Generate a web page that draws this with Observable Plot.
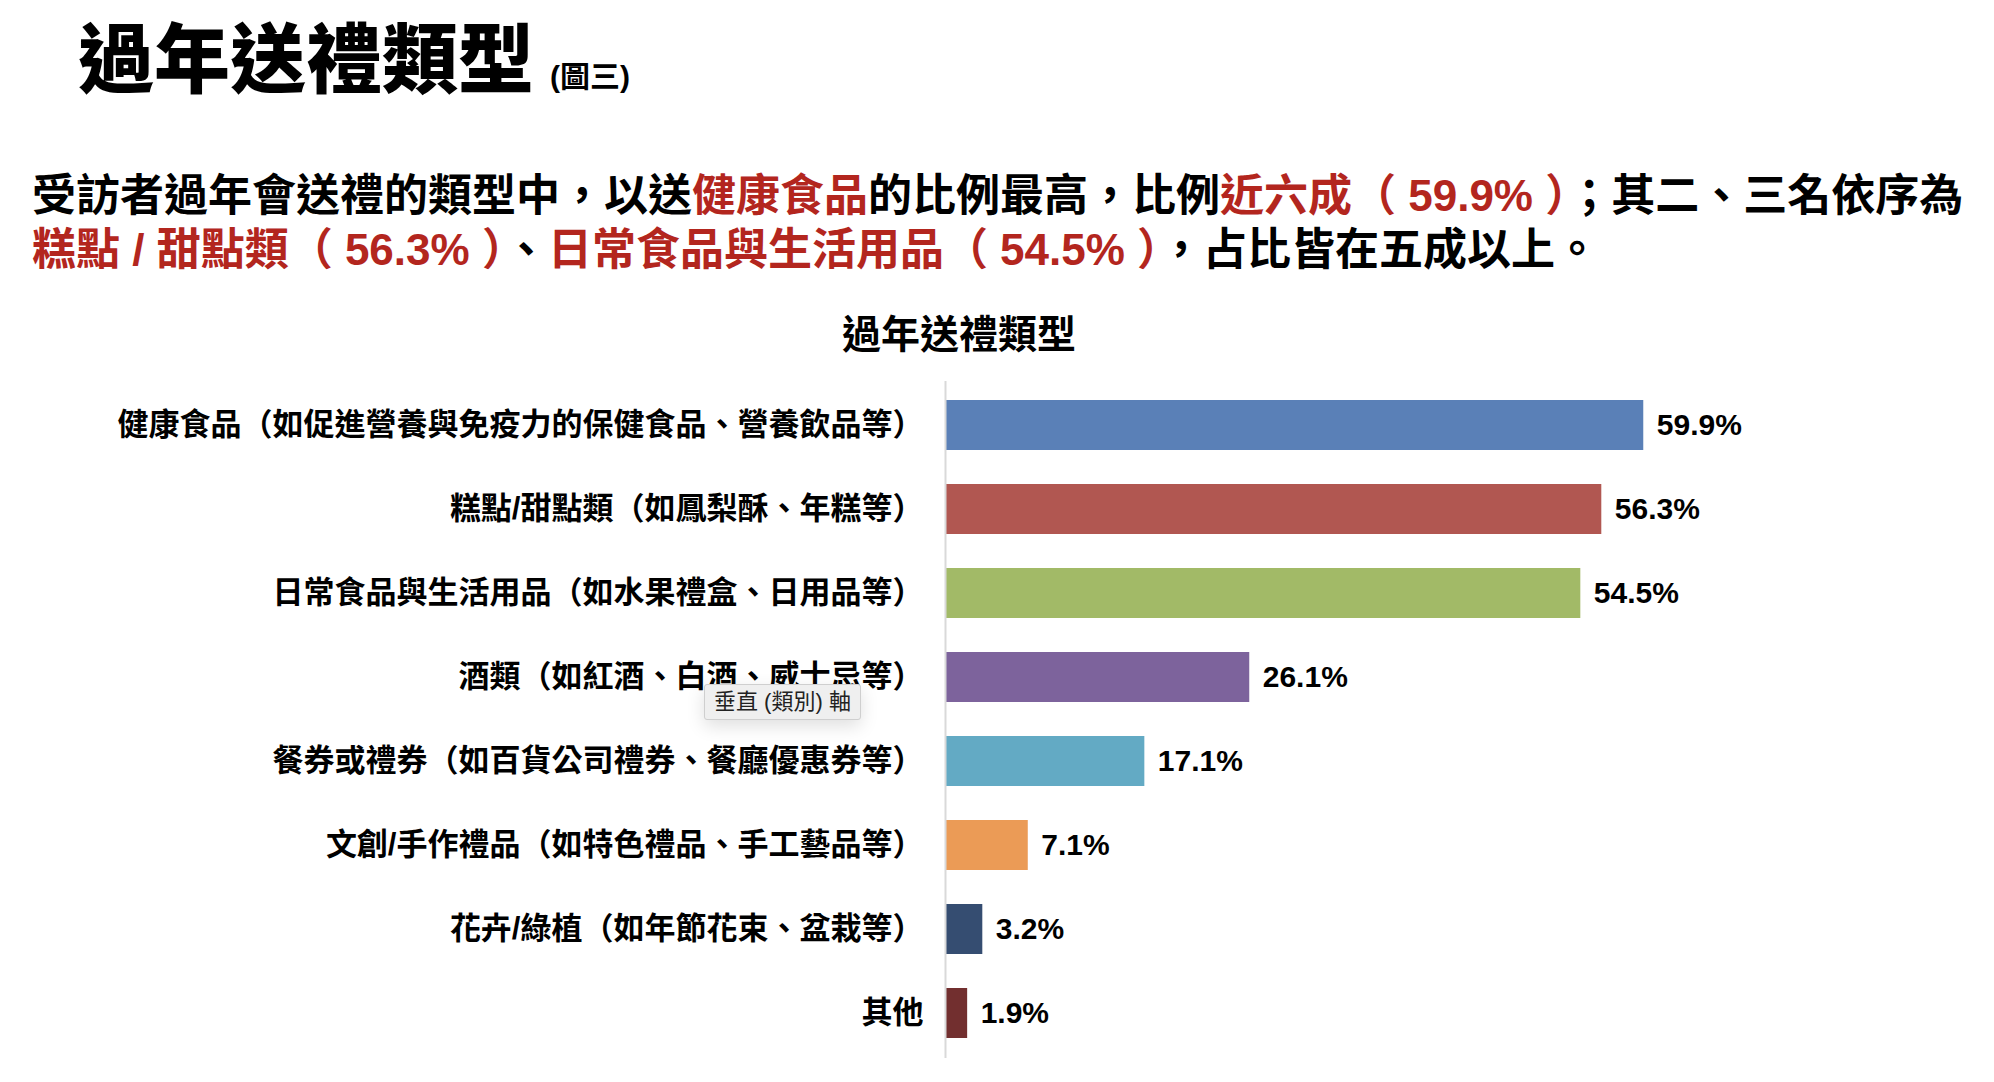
<!DOCTYPE html>
<html>
<head>
<meta charset="utf-8">
<script src="https://cdn.jsdelivr.net/npm/d3@7"></script>
<script src="https://cdn.jsdelivr.net/npm/@observablehq/plot@0.6"></script>
<style>
  html, body { margin: 0; padding: 0; background: #fff; }
  #wrap { position: relative; width: 1994px; height: 1082px; overflow: hidden;
          font-family: "Liberation Sans", Arial, "Noto Sans CJK TC", sans-serif; color: #000; }
  .abs { position: absolute; white-space: nowrap; }
  .red { color: #b3261e; }
</style>
</head>
<body>
<div id="wrap">
  <div class="abs" id="title" style="left:78px; top:23px; font-size:76px; line-height:76px; font-weight:900;">過年送禮類型<span style="font-size:30px; font-weight:700; margin-left:16px;">(圖三)</span></div>
  <div class="abs" id="para" style="left:32px; top:169px; font-size:44px; line-height:54px; font-weight:700;"></div>
  <div class="abs" id="ctitle" style="left:0; width:1918px; text-align:center; top:312px; font-size:39px; line-height:46px; font-weight:700;">過年送禮類型</div>
  <div class="abs" id="chart" style="left:0; top:360px;"></div>
  <div class="abs" id="tip" style="left:704px; top:684px; height:34px; padding:0 9px; background:#efefef; border:1px solid #cfcfcf; border-radius:3px; box-shadow:0 6px 18px rgba(0,0,0,0.13); font-size:22px; line-height:34px; color:#222;">垂直 (類別) 軸</div>
</div>
<script>
const categories = [
  "健康食品（如促進營養與免疫力的保健食品、營養飲品等）",
  "糕點/甜點類（如鳳梨酥、年糕等）",
  "日常食品與生活用品（如水果禮盒、日用品等）",
  "酒類（如紅酒、白酒、威士忌等）",
  "餐券或禮券（如百貨公司禮券、餐廳優惠券等）",
  "文創/手作禮品（如特色禮品、手工藝品等）",
  "花卉/綠植（如年節花束、盆栽等）",
  "其他"
];
const values = [59.9, 56.3, 54.5, 26.1, 17.1, 7.1, 3.2, 1.9];
const colors = ["#5a80b7", "#b15751", "#a2ba67", "#7d639c", "#63aac4", "#eb9b56", "#354d71", "#722f2f"];

const paraLine1 = [
  ["受訪者過年會送禮的類型中，以送", false],
  ["健康食品", true],
  ["的比例最高，比例", false],
  ["近六成（ 59.9% ）", true],
  ["；其二、三名依序為", false]
];
const paraLine2 = [
  ["糕點 / 甜點類（ 56.3% ）", true],
  ["、", false],
  ["日常食品與生活用品（ 54.5% ）", true],
  ["，占比皆在五成以上。", false]
];

const para = document.getElementById("para");
function addLine(parts) {
  parts.forEach(([t, red]) => {
    const s = document.createElement("span");
    s.textContent = t;
    if (red) s.className = "red";
    para.appendChild(s);
  });
}
addLine(paraLine1);
para.appendChild(document.createElement("br"));
addLine(paraLine2);

const data = categories.map((c, i) => ({category: c, value: values[i], color: colors[i]}));

const chart = Plot.plot({
  width: 1994,
  height: 722,
  marginLeft: 945,
  marginRight: 233,
  marginTop: 21,
  marginBottom: 24,
  style: {fontFamily: "'Liberation Sans', Arial, 'Noto Sans CJK TC', sans-serif", background: "transparent", color: "#000"},
  x: {domain: [0, 70], axis: null},
  y: {domain: categories, paddingInner: 0.4, paddingOuter: 0.2, label: null, axis: null},
  color: {type: "identity"},
  marks: [
    Plot.barX(data, {x: "value", y: "category", fill: "color"}),
    Plot.ruleX([0], {stroke: "#d9d9d9", strokeWidth: 2}),
    Plot.axisY({tickSize: 0, tickPadding: 22, fontSize: 31, fontWeight: "bold", fill: "#000", label: null}),
    Plot.text(data, {x: "value", y: "category", text: d => d.value.toFixed(1) + "%", textAnchor: "start", dx: 13, fontSize: 30, fontWeight: "bold", fill: "#000"})
  ]
});
document.getElementById("chart").appendChild(chart);
</script>
</body>
</html>
